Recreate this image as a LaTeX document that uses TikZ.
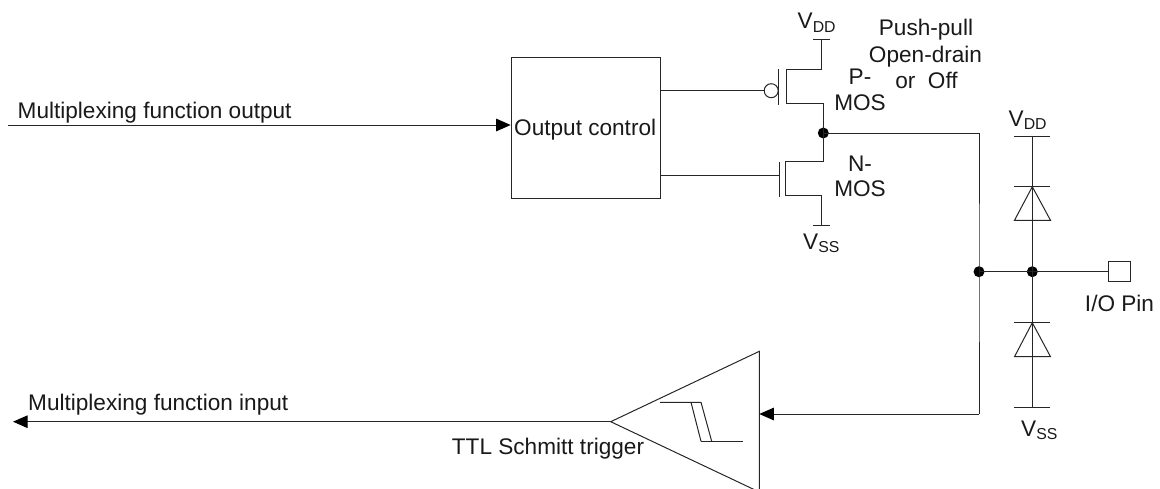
\documentclass[tikz,border=0pt]{standalone}
\usepackage{fontspec}
\setmainfont{Liberation Sans}
\usetikzlibrary{arrows.meta,calc}
\tikzset{
	wire/.style={line width=1pt, color=black!85},
	sig/.style={wire, -{Triangle[length=14.5pt,width=12.5pt,color=black]}},
	label/.style={inner sep=0pt, font=\fontsize{22.6}{26}\selectfont, text=black!90},
	dot/.style={circle, fill=black, inner sep=0pt, minimum size=11pt},
}
\begin{document}
\begin{tikzpicture}[x=1pt,y=-1pt]
\useasboundingbox(0,0)rectangle(1160,488);
\node[rectangle, draw, wire, minimum width=149.6pt, minimum height=141.6pt, anchor=north west, inner sep=0pt](ctrl)at(510.7,56.7){};
\node[label, anchor=base west](ctrltext)at(514,135){Output control};
\coordinate(inl)at(8,125);
\node[label, anchor=base west](outtext)at(17.5,118.3){Multiplexing function output};
\draw[sig](inl)to(inl-|ctrl.west);

\coordinate(pgate)at(778.7,90.7);
\coordinate(ngate)at(779.3,175.3);
\coordinate(ptop)at(786,69.3);
\coordinate(pbot)at(786,103.7);
\coordinate(ntop)at(785,161.7);
\coordinate(nbot)at(785,195.7);
\coordinate(vddm)at(821.7,39.7);
\coordinate(vssm)at(821.7,225.7);
\node[dot](out)at(823.3,133){};
\node[circle, draw, wire, inner sep=0pt, minimum size=14pt, anchor=east](bub)at(pgate){};
\draw[wire](pgate|-ptop)to($(pgate)+(0,14.5)$);
\draw[wire](ngate|-ntop)to($(ngate)+(0,21.5)$);
\draw[wire](ctrl.east|-pgate)to(bub.west);
\draw[wire](ctrl.east|-ngate)to(ngate);
\draw[wire]($(vddm)+(-8.5,0)$)to($(vddm)+(8.5,0)$);
\draw[wire]($(vssm)+(-8.5,0)$)to($(vssm)+(8.5,0)$);
\draw[wire](vddm)to(vddm|-ptop)to(ptop)to(pbot)to(pbot-|out)to(out.center)to(ntop-|out)to(ntop)to(nbot)to(nbot-|vssm)to(vssm);
\node[label, anchor=base west](vddp)at(797.5,28.3){V\textsubscript{DD}};
\node[label, anchor=base west](vssn)at(803,249){V\textsubscript{SS}};
\node[label, anchor=base](pl)at(860,84){P-};
\node[label, anchor=base](pm)at(860,110){MOS};
\node[label, anchor=base](nl)at(860,171){N-};
\node[label, anchor=base](nm)at(860,196.7){MOS};
\node[label, anchor=base](pp)at(926,35.7){Push-pull};
\node[label, anchor=base](od)at(925.5,62){Open-drain};
\node[label, anchor=base](off)at(926.5,88){or\ \ Off};

\node[dot](j1)at(979,271.7){};
\node[dot](j2)at(1032.3,271.7){};
\node[rectangle, draw, wire, minimum width=22pt, minimum height=20.4pt, inner sep=0pt, anchor=west](pin)at(1107.7,271.7){};
\node[label, anchor=base](pintext)at(1119.5,311.7){I/O Pin};
\coordinate(vddr)at(1032.3,136);
\coordinate(vssr)at(1032.3,407.7);
\draw[wire](out.center)to(out-|j1)to(j1.center)to(979,414)coordinate(corn);
\draw[wire](j1.center)to(j2.center)to(pin.west);
\draw[wire](vddr)to(vssr);
\draw[wire]($(vddr)+(-18,0)$)to($(vddr)+(18,0)$);
\draw[wire]($(vssr)+(-18,0)$)to($(vssr)+(18,0)$);
\foreach \tipy/\basey/\diode in {186.7/220.3/up,322.7/356.7/lo}{
	\coordinate(\diode)at(1032.3,\tipy);
	\draw[wire]($(\diode)+(-18,0)$)to($(\diode)+(18,0)$);
	\draw[wire](\diode)to(1014.5,\basey)to(1050.5,\basey)--cycle;
}
\node[label, anchor=base west](vddq)at(1008.5,126){V\textsubscript{DD}};
\node[label, anchor=base west](vssq)at(1021,436){V\textsubscript{SS}};

\coordinate(apex)at(610.7,421.7);
\coordinate(ttop)at(759.3,351.3);
\coordinate(tbot)at(759.3,492);
\draw[wire](apex)to(ttop)to(tbot)to(apex);
\draw[sig](corn)to(corn-|ttop);
\coordinate(inl2)at(13,421.7);
\draw[sig](apex)to(inl2);
\node[label, anchor=base west](intext)at(28,410){Multiplexing function input};
\node[label, anchor=base west](ttl)at(451.7,454){TTL Schmitt trigger};
\coordinate(sa)at(660,402.3);
\coordinate(sb)at(701,402.3);
\coordinate(sc)at(701,441.3);
\coordinate(sd)at(742.7,441.3);
\draw[wire](sa)to(sb)to(711.7,441.3);
\draw[wire](691,402.3)to(sc);
\draw[wire](sc)to(sd);
\end{tikzpicture}
\end{document}
